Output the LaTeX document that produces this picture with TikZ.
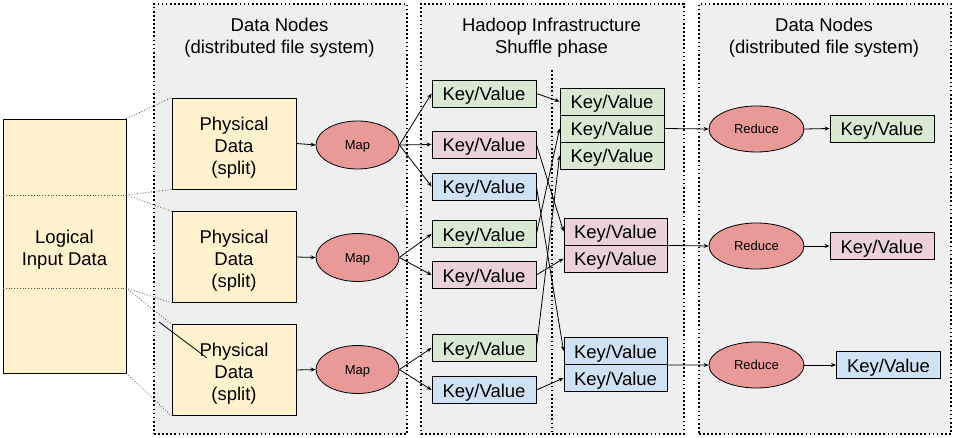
\documentclass[tikz,border=0pt]{standalone}
\usepackage{fontspec}
\setmainfont{Liberation Sans}
\usetikzlibrary{shapes.geometric, arrows.meta}
\definecolor{panelgrey}{HTML}{EFEFEF}
\definecolor{ylw}{HTML}{FFF2CC}
\definecolor{grn}{HTML}{D9EAD3}
\definecolor{pnk}{HTML}{EAD1DC}
\definecolor{blu}{HTML}{CFE2F3}
\definecolor{mapred}{HTML}{EA9999}
\tikzset{
  panel/.style={draw=black, fill=panelgrey, line width=1.8pt, dash pattern=on 1.7pt off 2.4pt, anchor=north west, inner sep=0pt},
  bigtext/.style={font=\fontsize{18.5}{22}\selectfont},
  ybox/.style={draw=black, fill=ylw, line width=0.8pt, inner sep=0pt},
  btext/.style={bigtext, align=center, inner sep=0pt},
  kv/.style={draw=black, line width=0.8pt, inner sep=0pt, minimum width=104pt, minimum height=27pt, bigtext, text height=16pt, text depth=1pt},
  oval/.style={ellipse, draw=black, fill=mapred, line width=0.8pt, inner sep=0pt, font=\fontsize{13}{15}\selectfont, text height=10.5pt, text depth=0.5pt},
  arr/.style={-{Stealth[length=5pt,width=4pt]}, line width=0.8pt},
  thindot/.style={draw=black!70, line width=0.8pt, dash pattern=on 0.8pt off 2pt},
  innerdot/.style={draw=black, line width=1.8pt, dash pattern=on 1.7pt off 2.4pt},
}
\begin{document}
\begin{tikzpicture}[x=1pt,y=-1pt]
\useasboundingbox (0,0) rectangle (956,438);
% panels
\node[panel, minimum width=253pt, minimum height=430pt] (pa) at (153,3) {};
\node[panel, minimum width=263pt, minimum height=430pt] (pb) at (420,3) {};
\node[panel, minimum width=252pt, minimum height=430pt] (pc) at (698,3) {};
\node[btext] (ha) at (279.5,38) {Data Nodes\\(distributed file system)};
\node[btext] (hb) at (551.5,38) {Hadoop Infrastructure\\Shuffle phase};
\node[btext] (hc) at (824,38) {Data Nodes\\(distributed file system)};
\coordinate (vt) at (552,70);
\coordinate (vb) at (552,433);
\draw[innerdot] (vt) -- (vb);

% logical input
\node[ybox, minimum width=123pt, minimum height=254pt] (lid) at (64.5,246) {};
\node[btext] (lidt) at (64.5,250) {Logical\\Input Data};
\coordinate (s1) at (126,195);
\coordinate (s2) at (126,288);
\coordinate (s1l) at (3,195);
\coordinate (s2l) at (3,288);
\draw[thindot] (s1l) -- (s1);
\draw[thindot] (s2l) -- (s2);

% physical data
\node[ybox, minimum width=124pt, minimum height=91pt] (pd1) at (234,143.5) {};
\node[ybox, minimum width=124pt, minimum height=91pt] (pd2) at (234,257) {};
\node[ybox, minimum width=124pt, minimum height=91pt] (pd3) at (234,370) {};
\node[btext] (pd1t) at (234,147.5) {Physical\\Data\\(split)};
\node[btext] (pd2t) at (234,261) {Physical\\Data\\(split)};
\node[btext] (pd3t) at (234,374) {Physical\\Data\\(split)};

\draw[thindot] (lid.north east) -- (pd1.north west);
\draw[thindot] (s1) -- (pd1.south west);
\draw[thindot] (s1) -- (pd2.north west);
\draw[thindot] (s2) -- (pd2.south west);
\draw[thindot] (s2) -- (pd3.north west);
\draw[thindot] (lid.south east) -- (pd3.south west);
\coordinate (st1) at (159,322);
\coordinate (st2) at (207,358);
\draw[line width=0.8pt] (st1) -- (st2);

% maps
\node[oval, minimum width=83pt, minimum height=48pt] (m1) at (357.5,145) {Map};
\node[oval, minimum width=83pt, minimum height=48pt] (m2) at (357.5,257.5) {Map};
\node[oval, minimum width=83pt, minimum height=48pt] (m3) at (357.5,369.5) {Map};
\draw[arr] (pd1.east) -- (m1.west);
\draw[arr] (pd2.east) -- (m2.west);
\draw[arr] (pd3.east) -- (m3.west);

% map outputs
\node[kv, fill=grn] (k1) at (484,93.5) {Key/Value};
\node[kv, fill=pnk] (k2) at (484,144.5) {Key/Value};
\node[kv, fill=blu] (k3) at (484,186.5) {Key/Value};
\node[kv, fill=grn] (k4) at (484,234) {Key/Value};
\node[kv, fill=pnk] (k5) at (484,275) {Key/Value};
\node[kv, fill=grn] (k6) at (484,348) {Key/Value};
\node[kv, fill=blu] (k7) at (484,390) {Key/Value};
\draw[arr] (m1.east) -- (k1.west);
\draw[arr] (m1.east) -- (k2.west);
\draw[arr] (m1.east) -- (k3.west);
\draw[arr] (m2.east) -- (k4.west);
\draw[arr] (m2.east) -- (k5.west);
\draw[arr] (m3.east) -- (k6.west);
\draw[arr] (m3.east) -- (k7.west);

% shuffled stacks
\node[kv, fill=grn] (g1) at (612,101.5) {Key/Value};
\node[kv, fill=grn] (g2) at (612,128.5) {Key/Value};
\node[kv, fill=grn] (g3) at (612,155.5) {Key/Value};
\node[kv, fill=pnk, minimum width=103pt] (q1) at (615.5,231.5) {Key/Value};
\node[kv, fill=pnk, minimum width=103pt] (q2) at (615.5,258.5) {Key/Value};
\node[kv, fill=blu, minimum width=103pt] (b1) at (615.5,351) {Key/Value};
\node[kv, fill=blu, minimum width=103pt] (b2) at (615.5,378) {Key/Value};

\draw[arr] (k1.east) -- (g1.west);
\draw[arr] (k2.east) -- (q1.west);
\draw[arr] (k3.east) -- (b1.west);
\draw[arr] (k4.east) -- (g2.west);
\draw[arr] (k5.east) -- (q2.west);
\draw[arr] (k6.east) -- (g3.west);
\draw[arr] (k7.east) -- (b2.west);

% reduces
\node[oval, minimum width=95pt, minimum height=46pt] (r1) at (756.5,129) {Reduce};
\node[oval, minimum width=95pt, minimum height=46pt] (r2) at (756.5,246) {Reduce};
\node[oval, minimum width=95pt, minimum height=46pt] (r3) at (756.5,365) {Reduce};
\draw[arr] (g2.east) -- (r1.west);
\draw[arr] (q1.south east) -- (r2.west);
\draw[arr] (b1.south east) -- (r3.west);

% outputs
\node[kv, fill=grn] (o1) at (882,128.5) {Key/Value};
\node[kv, fill=pnk] (o2) at (882,246) {Key/Value};
\node[kv, fill=blu] (o3) at (888.5,365) {Key/Value};
\draw[arr] (r1.east) -- (o1.west);
\draw[arr] (r2.east) -- (o2.west);
\draw[arr] (r3.east) -- (o3.west);
\end{tikzpicture}
\end{document}
